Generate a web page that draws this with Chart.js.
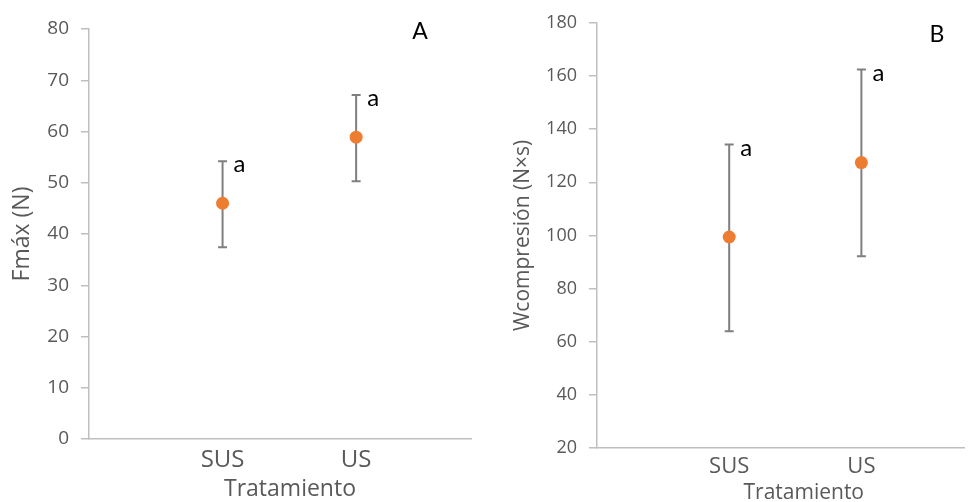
<!DOCTYPE html>
<html>
<head>
<meta charset="utf-8">
<script src="https://cdn.jsdelivr.net/npm/chart.js@4.4.0/dist/chart.umd.min.js"></script>
<style>
  html, body { margin: 0; padding: 0; background: #fff; }
  #wrap { position: relative; width: 971px; height: 502px; overflow: hidden; }
  .panel { position: absolute; top: 0; height: 502px; }
  #panelA { left: 0; width: 480px; }
  #panelB { left: 490px; width: 481px; }
</style>
</head>
<body>
<div id="wrap">
  <div class="panel" id="panelA"><canvas id="chartA"></canvas></div>
  <div class="panel" id="panelB"><canvas id="chartB"></canvas></div>
</div>
<script>
// Données
const categories = ['SUS', 'US'];
const groupLetters = ['a', 'a'];

// A : Fmáx (N)
const fmaxMean  = [46.0, 58.9];
const fmaxUpper = [54.2, 67.1];
const fmaxLower = [37.4, 50.3];
const fmaxTicks = [0, 10, 20, 30, 40, 50, 60, 70, 80];

// B : Wcompresión (N×s)
const wcompMean  = [99.4, 127.4];
const wcompUpper = [134.2, 162.4];
const wcompLower = [63.9, 92.2];
const wcompTicks = [20, 40, 60, 80, 100, 120, 140, 160, 180];

const GREY_TEXT = '#595959';
const ORANGE = '#ED7D31';

// Barres d'erreur, lettres de groupe, titre de l'axe X
const errorBarPlugin = {
  id: 'errorBars',
  beforeDatasetsDraw(chart) {
    const { ctx, scales: { x, y } } = chart;
    const o = chart.options.plugins.errorBars;
    ctx.save();
    ctx.strokeStyle = '#7f7f7f';
    ctx.lineWidth = 2;
    o.mean.forEach((m, i) => {
      const px = x.getPixelForValue(i + 1);
      const top = y.getPixelForValue(o.upper[i]);
      const bot = y.getPixelForValue(o.lower[i]);
      ctx.beginPath();
      ctx.moveTo(px, top); ctx.lineTo(px, bot);
      ctx.moveTo(px - 4.5, top); ctx.lineTo(px + 4.5, top);
      ctx.moveTo(px - 4.5, bot); ctx.lineTo(px + 4.5, bot);
      ctx.stroke();
    });
    ctx.restore();
  },
  afterDatasetsDraw(chart) {
    const { ctx, scales: { x, y } } = chart;
    const o = chart.options.plugins.errorBars;
    ctx.save();
    ctx.fillStyle = '#000';
    ctx.font = '24px Lato, "Open Sans", sans-serif';
    ctx.textAlign = 'left';
    ctx.textBaseline = 'alphabetic';
    groupLetters.forEach((l, i) => {
      const px = x.getPixelForValue(i + 1);
      const top = y.getPixelForValue(o.upper[i]);
      ctx.fillText(l, px + 11, top + 11);
    });
    // lettre du panneau
    ctx.font = '23px Lato, "Open Sans", sans-serif';
    ctx.textAlign = 'center';
    ctx.textBaseline = 'middle';
    ctx.fillText(o.panel, o.panelX, o.panelY);
    // titre de l'axe X (décalé comme dans Excel)
    ctx.fillStyle = GREY_TEXT;
    ctx.font = o.xTitleSize + 'px "Open Sans"';
    ctx.fillText('Tratamiento', (x.left + x.right) / 2 + o.xTitleShift, o.xTitleY);
    ctx.restore();
  }
};

function makeChart(id, cfg) {
  return new Chart(document.getElementById(id), {
    type: 'scatter',
    data: {
      datasets: [{
        data: cfg.mean.map((v, i) => ({ x: i + 1, y: v })),
        pointRadius: 6.5,
        pointHoverRadius: 6.5,
        backgroundColor: ORANGE,
        borderColor: ORANGE,
        borderWidth: 0
      }]
    },
    options: {
      responsive: true,
      maintainAspectRatio: false,
      animation: false,
      events: [],
      layout: { padding: { top: cfg.padTop, right: cfg.padRight, left: 0, bottom: 0 } },
      plugins: {
        legend: { display: false },
        tooltip: { enabled: false },
        errorBars: {
          mean: cfg.mean, upper: cfg.upper, lower: cfg.lower,
          panel: cfg.panel, panelX: cfg.panelX, panelY: cfg.panelY,
          xTitleSize: cfg.xTitleSize, xTitleShift: cfg.xTitleShift, xTitleY: cfg.xTitleY
        }
      },
      scales: {
        x: {
          type: 'linear',
          min: 0,
          max: cfg.xMax,
          afterFit: s => { s.height = cfg.xHeight; },
          afterBuildTicks: s => { s.ticks = categories.map((c, i) => ({ value: i + 1 })); },
          ticks: {
            callback: v => categories[v - 1],
            color: GREY_TEXT,
            font: { family: '"Open Sans"', size: cfg.catSize },
            padding: cfg.catPad,
            maxRotation: 0
          },
          grid: { display: true, drawOnChartArea: false, drawTicks: false, color: '#bfbfbf' },
          border: { display: true, color: '#bfbfbf', width: 1.5 },
          title: { display: false }
        },
        y: {
          min: cfg.yTicks[0],
          max: cfg.yTicks[cfg.yTicks.length - 1],
          afterFit: s => { s.width = cfg.yWidth; },
          afterBuildTicks: s => { s.ticks = cfg.yTicks.map(v => ({ value: v })); },
          ticks: {
            color: GREY_TEXT,
            font: { family: '"Open Sans"', size: cfg.tickSize },
            padding: 12
          },
          grid: { drawOnChartArea: false, drawTicks: true, tickLength: 8, color: '#bfbfbf', lineWidth: 1.5 },
          border: { display: true, color: '#bfbfbf', width: 1.5 },
          title: {
            display: true,
            text: cfg.yTitle,
            color: GREY_TEXT,
            font: { family: '"Open Sans"', size: cfg.yTitleSize },
            padding: { top: cfg.yTitlePad, bottom: 0 }
          }
        }
      }
    },
    plugins: [errorBarPlugin]
  });
}

makeChart('chartA', {
  mean: fmaxMean, upper: fmaxUpper, lower: fmaxLower, yTicks: fmaxTicks,
  yTitle: 'Fmáx (N)', panel: 'A', panelX: 420, panelY: 32,
  padTop: 29, padRight: 9, xMax: 2.86, xHeight: 63, yWidth: 89,
  tickSize: 19, catSize: 24, catPad: 7,
  xTitleSize: 23, xTitleShift: 10, xTitleY: 489,
  yTitleSize: 23, yTitlePad: 9
});

makeChart('chartB', {
  mean: wcompMean, upper: wcompUpper, lower: wcompLower, yTicks: wcompTicks,
  yTitle: 'Wcompresión (N×s)', panel: 'B', panelX: 447, panelY: 35,
  padTop: 21, padRight: 1, xMax: 2.78, xHeight: 54, yWidth: 107,
  tickSize: 18, catSize: 22, catPad: 6,
  xTitleSize: 21, xTitleShift: 23, xTitleY: 493,
  yTitleSize: 21, yTitlePad: 20
});
</script>
</body>
</html>
